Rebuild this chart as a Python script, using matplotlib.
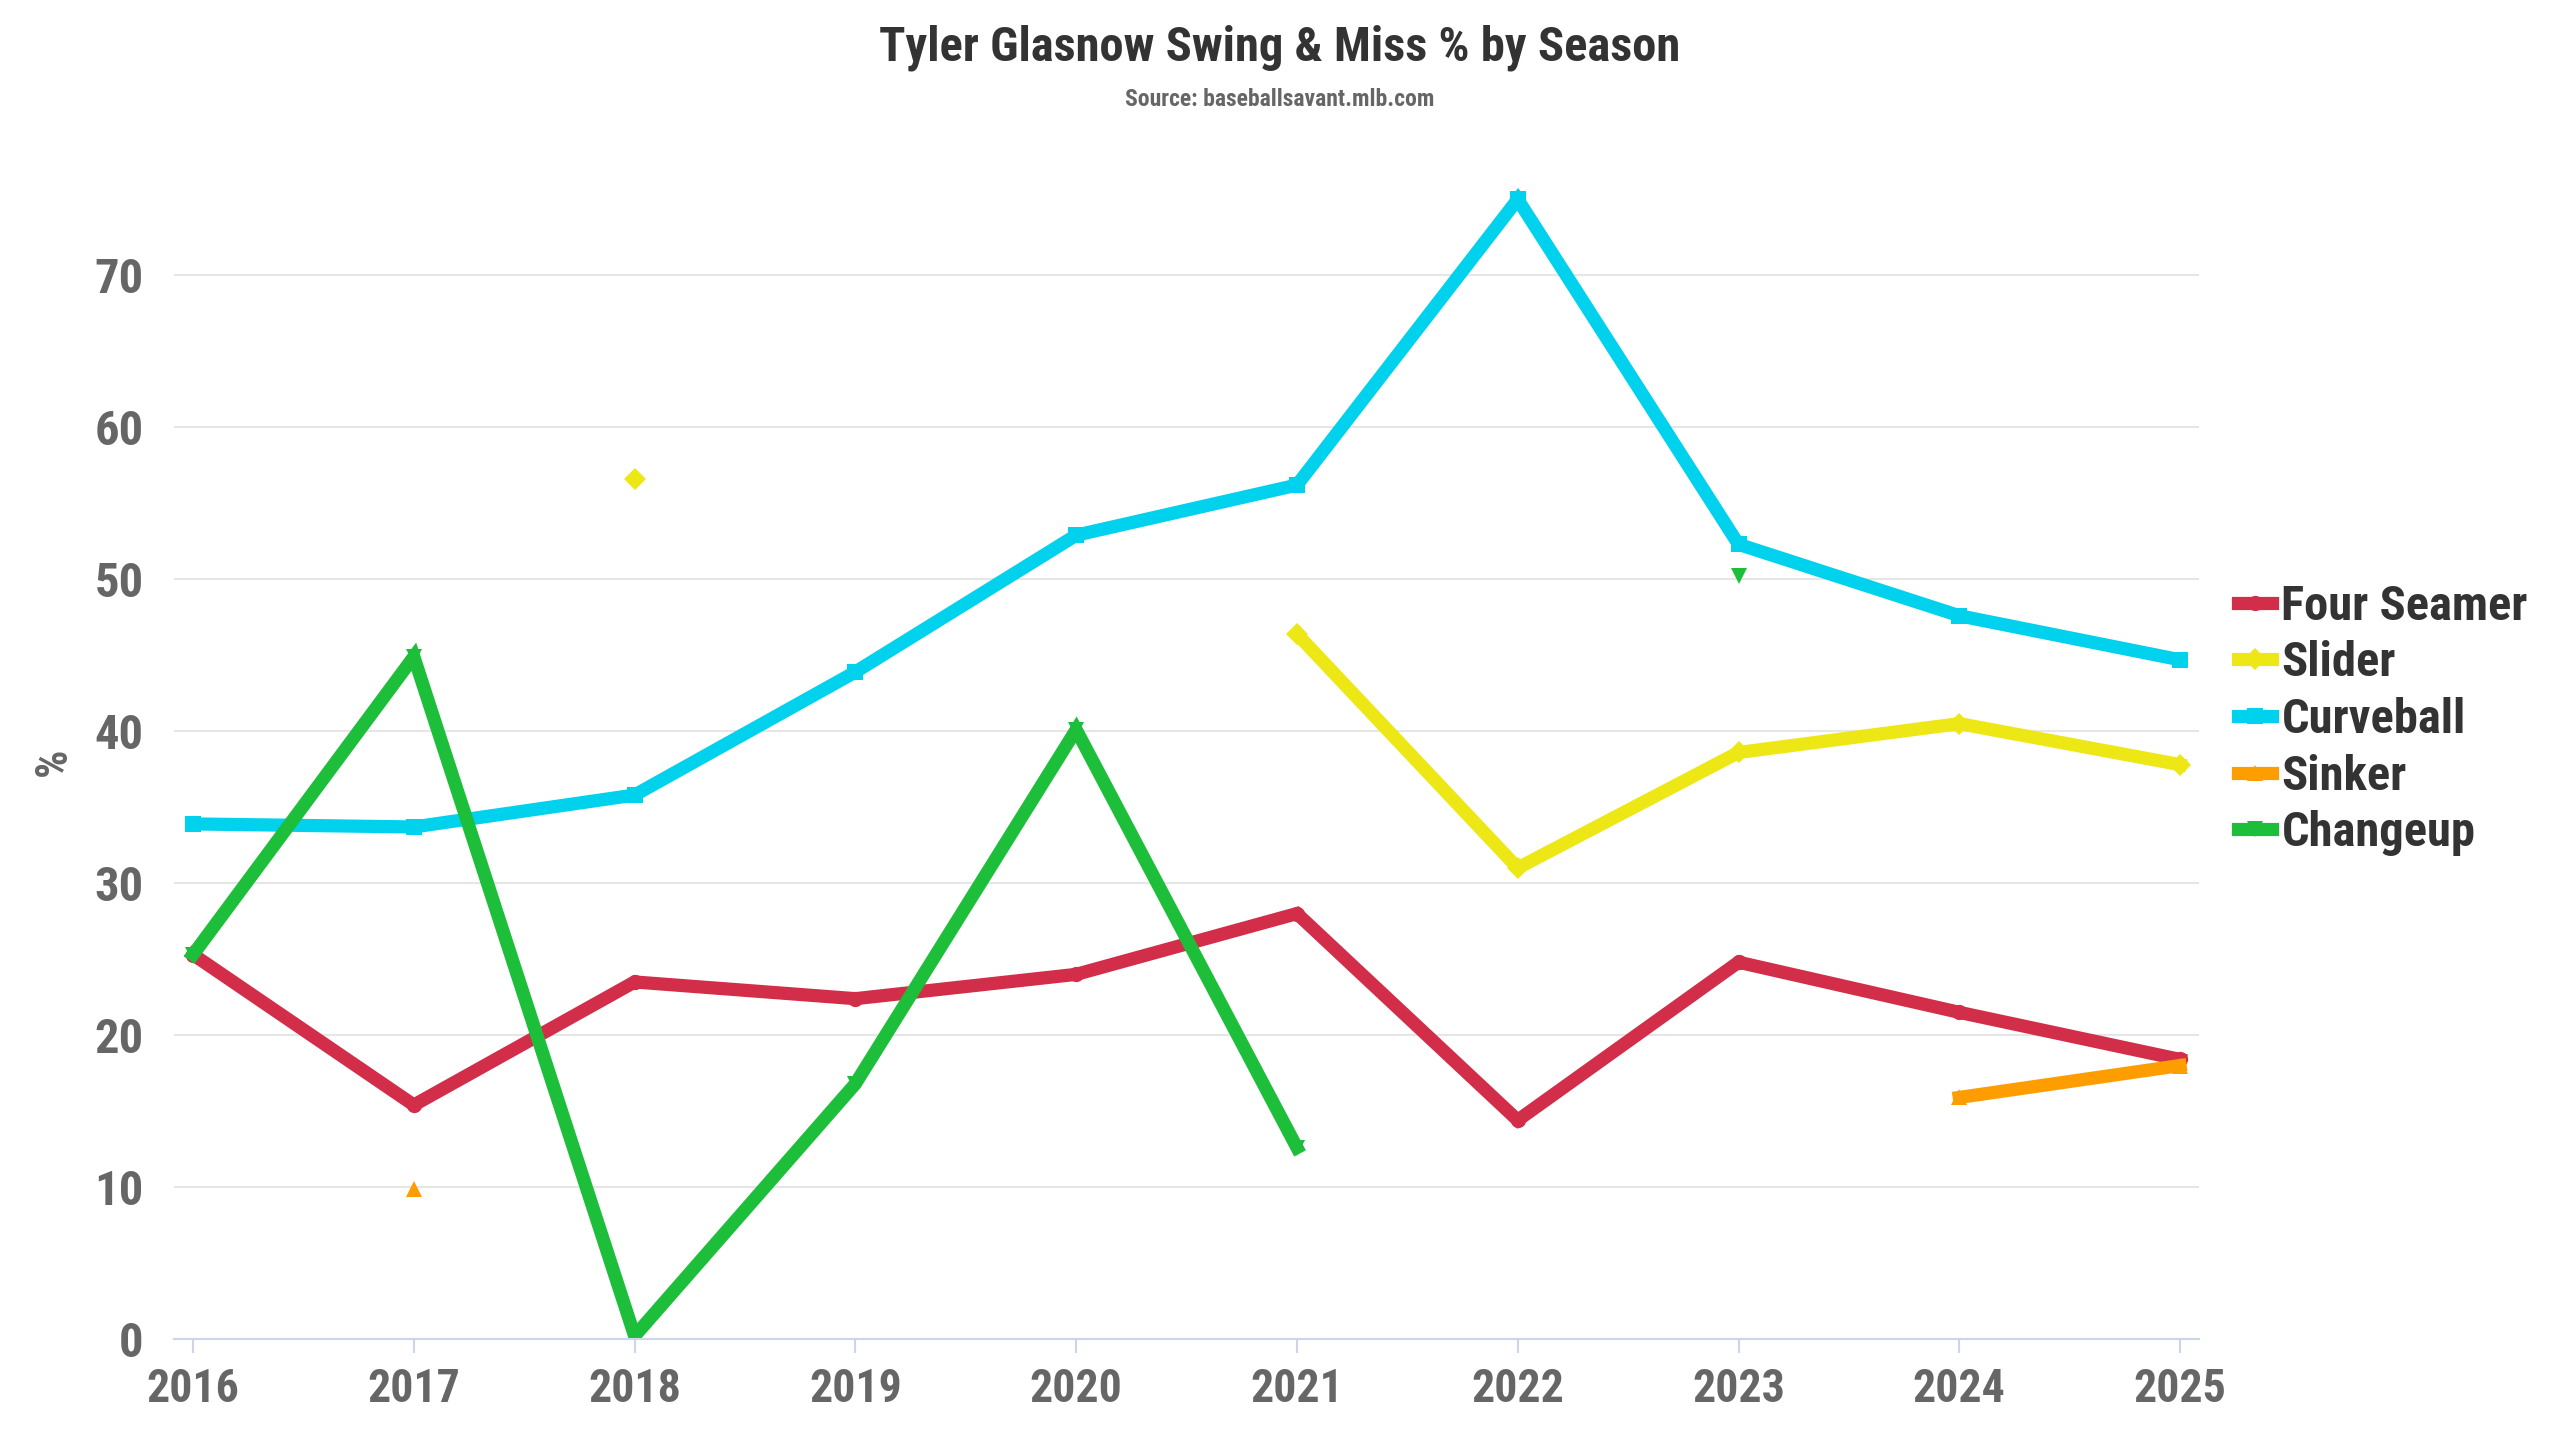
import numpy as np
import matplotlib.pyplot as plt

nan = np.nan

seasons = [2016, 2017, 2018, 2019, 2020, 2021, 2022, 2023, 2024, 2025]
four_seamer = [25.3, 15.4, 23.5, 22.4, 24.0, 28.0, 14.4, 24.8, 21.5, 18.4]
slider = [nan, nan, 56.6, nan, nan, 46.4, 31.0, 38.6, 40.5, 37.8]
curveball = [33.9, 33.7, 35.8, 43.9, 52.9, 56.2, 75.0, 52.3, 47.6, 44.7]
sinker = [nan, 9.9, nan, nan, nan, nan, nan, nan, 15.9, 18.0]
changeup = [25.3, 44.9, 0.2, 16.8, 40.1, 12.6, nan, 50.2, nan, nan]

pitch_names = ['Four Seamer', 'Slider', 'Curveball', 'Sinker', 'Changeup']
pitch_colors = ['#d22d49', '#eee716', '#00d1ed', '#fe9d00', '#1dbe3a']
pitch_markers = ['o', 'D', 's', '^', 'v']

plt.rcParams['font.family'] = ['Roboto Condensed', 'Roboto', 'DejaVu Sans']
plt.rcParams['font.weight'] = 'bold'

fig = plt.figure(figsize=(25.6, 14.4), dpi=100)
ax = fig.add_axes([0.068, 0.0701, 0.791, 0.802])

series = [four_seamer, slider, curveball, sinker, changeup]
for name, values, color, marker in zip(pitch_names, series, pitch_colors, pitch_markers):
    ax.plot(seasons, values, color=color, linewidth=9.5, marker=marker,
            markersize=11, markeredgewidth=0, label=name, solid_joinstyle='miter')

ax.set_xlim(2016 - 0.086, 2025 + 0.086)
ax.set_ylim(0, 76)
ax.set_xticks(seasons)
ax.set_xticklabels([str(s) for s in seasons])
ax.set_yticks(range(0, 80, 10))

ax.grid(axis='y', color='#e6e6e6', linewidth=1.5)
ax.set_axisbelow(True)
for side in ['top', 'right', 'left']:
    ax.spines[side].set_visible(False)
ax.spines['bottom'].set_color('#ccd6eb')
ax.spines['bottom'].set_linewidth(1.5)

ax.tick_params(axis='x', colors='#ccd6eb', length=10, width=1.5, pad=10,
               labelsize=33, labelcolor='#666666')
ax.tick_params(axis='y', length=0, pad=22, labelsize=35, labelcolor='#666666')
for lbl in ax.get_xticklabels() + ax.get_yticklabels():
    lbl.set_fontweight('bold')

ax.set_ylabel('%', fontsize=32, color='#666666', fontweight='bold', labelpad=14)

fig.text(0.5, 0.967, 'Tyler Glasnow Swing & Miss % by Season', ha='center', va='center',
         fontsize=35, fontweight='bold', color='#333333')
fig.text(0.5, 0.931, 'Source: baseballsavant.mlb.com', ha='center', va='center',
         fontsize=17, fontweight='bold', color='#666666')

leg = fig.legend(loc='center left', bbox_to_anchor=(0.8665, 0.5), frameon=False,
                 fontsize=35, handlelength=0.7, handletextpad=0.2, labelspacing=0.22,
                 borderaxespad=0)
for txt in leg.get_texts():
    txt.set_color('#333333')
    txt.set_fontweight('bold')

fig.savefig('out.png', dpi=100)
